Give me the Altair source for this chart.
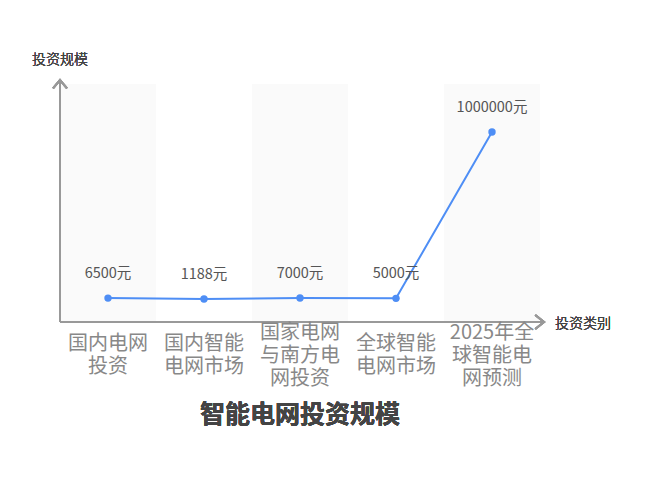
import altair as alt
import pandas as pd

categories = ["国内电网投资", "国内智能电网市场", "国家电网与南方电网投资", "全球智能电网市场", "2025年全球智能电网预测"]
tick_labels = ["国内电网\n投资", "国内智能\n电网市场", "国家电网\n与南方电\n网投资", "全球智能\n电网市场", "2025年全\n球智能电\n网预测"]
values = [6500, 1188, 7000, 5000, 1000000]
value_labels = ["6500元", "1188元", "7000元", "5000元", "1000000元"]
banded = [True, False, True, False, True]

df = pd.DataFrame({
    "cat": categories,
    "tick": tick_labels,
    "value": values,
    "label": value_labels,
    "band": banded,
})
df["nlines"] = df["tick"].str.count("\n") + 1

W, H = 480, 238
FONT = "Noto Sans CJK SC"
LH = 23
MID = 271.5

xs = alt.Scale(domain=categories, paddingInner=0, paddingOuter=0)
ys = alt.Scale(domain=[-136400, 1287100], nice=False, zero=False)
X = alt.X("cat:N", scale=xs, axis=None, sort=categories)

bands = alt.Chart(df).transform_filter("datum.band").mark_rect(color="#fafafa").encode(
    x=X, y=alt.value(0), y2=alt.value(H)
)

line = alt.Chart(df).mark_line(color="#4e8ef5", strokeWidth=2).encode(
    x=X, y=alt.Y("value:Q", scale=ys, axis=None)
)
pts = alt.Chart(df).mark_point(color="#4e8ef5", filled=True, size=55, opacity=1).encode(
    x=X, y=alt.Y("value:Q", scale=ys, axis=None)
)
vlabels = alt.Chart(df).mark_text(font=FONT, fontSize=14.5, color="#555555", dy=-24).encode(
    x=X, y=alt.Y("value:Q", scale=ys, axis=None), text="label:N"
)

def tick_layer(n):
    return alt.Chart(df).transform_filter(f"datum.nlines == {n}").mark_text(
        font=FONT, fontSize=20, color="#888888", lineBreak="\n", lineHeight=LH, baseline="middle"
    ).encode(x=X, y=alt.value(MID - (n - 1) * LH / 2), text="tick:N")

xlabels2 = tick_layer(2)
xlabels3 = tick_layer(3)

AX = "#999999"
xaxis = alt.Chart(df).mark_rule(color=AX, strokeWidth=2).encode(
    x=alt.value(0), x2=alt.value(485), y=alt.value(H)
)
yaxis = alt.Chart(df).mark_rule(color=AX, strokeWidth=2).encode(
    x=alt.value(0), y=alt.value(-5), y2=alt.value(H)
)
xarrow = alt.Chart(df).mark_point(
    shape="M-1.25,-1L0,0L-1.25,1", filled=False, color=AX, strokeWidth=2, size=196, opacity=1
).encode(x=alt.value(484), y=alt.value(H))
yarrow = alt.Chart(df).mark_point(
    shape="M-1,1.2L0,0L1,1.2", filled=False, color=AX, strokeWidth=2, size=196, opacity=1
).encode(x=alt.value(0), y=alt.value(-4))

ytitle = alt.Chart(df).mark_text(font=FONT, fontSize=14, fontWeight=300, color="#444444").encode(
    x=alt.value(0), y=alt.value(-24), text=alt.value("投资规模")
)
xtitle = alt.Chart(df).mark_text(font=FONT, fontSize=14, fontWeight=300, color="#444444", align="left").encode(
    x=alt.value(495), y=alt.value(240), text=alt.value("投资类别")
)
title = alt.Chart(df).mark_text(font=FONT, fontSize=25, fontWeight="bold", color="#444444").encode(
    x=alt.value(240), y=alt.value(331), text=alt.value("智能电网投资规模")
)

chart = alt.layer(
    bands, xaxis, yaxis, xarrow, yarrow, line, pts, vlabels, xlabels2, xlabels3, ytitle, xtitle, title
).properties(
    width=W, height=H,
    autosize=alt.AutoSizeParams(type="none"),
    padding={"left": 52, "top": 76, "right": 100, "bottom": 140},
).configure_view(stroke=None)

chart.save("out.html", embed_options={"renderer": "svg", "actions": False})
